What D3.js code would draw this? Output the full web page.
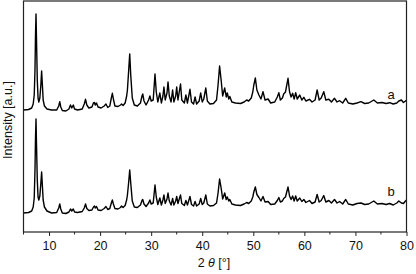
<!DOCTYPE html>
<html>
<head>
<meta charset="utf-8">
<script src="https://cdnjs.cloudflare.com/ajax/libs/d3/7.8.5/d3.min.js"></script>
<style>
  body { margin: 0; background: #fff; }
  svg text { font-family: "Liberation Sans", Arial, sans-serif; fill: #111; }
</style>
</head>
<body>
<svg id="xrd" width="416" height="274"></svg>
<script>

// 2 theta positions (deg), shared by both patterns
var twoTheta = [5.0,6.0,6.6,6.9,7.1,7.25,7.35,7.45,7.55,7.7,7.85,8.0,8.2,8.4,8.55,8.7,8.85,9.1,9.6,10.5,
  11.5,11.9,12.1,12.3,12.6,13.3,13.9,14.2,14.45,14.75,15.0,15.6,16.5,16.9,17.15,17.4,17.8,18.4,18.7,18.9,
  19.05,19.3,19.6,20.2,20.8,21.15,21.5,21.9,22.2,22.4,22.6,22.9,23.5,24.0,24.2,24.5,24.9,25.2,25.35,25.6,
  25.8,26.0,26.3,26.7,27.3,27.9,28.2,28.35,28.6,29.0,29.5,29.75,30.0,30.4,30.75,31.0,31.3,31.7,32.0,32.3,
  32.5,32.75,33.1,33.3,33.55,33.9,34.2,34.45,34.8,35.0,35.25,35.5,35.75,36.0,36.5,36.8,37.1,37.6,37.9,38.3,
  38.6,38.9,39.4,39.7,40.0,40.3,40.7,41.0,41.5,42.2,42.8,43.1,43.4,43.7,44.0,44.4,44.7,44.9,45.2,45.4,
  45.8,46.5,47.5,48.2,48.7,49.1,49.6,49.9,50.1,50.4,50.7,51.1,51.5,51.9,52.3,52.9,53.4,54.2,54.7,55.0,
  55.3,55.7,55.95,56.3,56.8,57.1,57.4,57.7,58.0,58.3,58.6,59.1,59.5,59.9,60.3,61.0,61.5,62.1,62.5,62.9,
  63.3,63.8,64.2,64.8,65.3,65.9,66.4,66.9,67.5,68.1,68.6,69.5,70.3,71.1,71.8,72.6,73.6,74.3,75.2,76.0,
  76.7,77.4,78.1,78.5,79.0,79.4,79.8,80.0];

// pattern a (drawn with its stacking offset included)
var intensityA = [1220,1225,1240,1280,1370,1620,1970,2180,1920,1520,1340,1300,1340,1470,1610,1470,1320,1260,1230,1220,
  1220,1260,1303,1250,1215,1210,1230,1270,1240,1270,1230,1220,1230,1280,1327,1270,1240,1250,1290,1295,
  1270,1290,1250,1240,1260,1280,1245,1260,1340,1387,1330,1260,1255,1270,1280,1265,1290,1360,1420,1620,
  1780,1570,1340,1270,1260,1290,1360,1380,1310,1270,1320,1360,1310,1320,1580,1400,1300,1390,1290,1360,
  1450,1320,1390,1500,1360,1300,1420,1300,1360,1450,1320,1400,1480,1320,1290,1370,1290,1427,1300,1280,
  1350,1280,1310,1390,1300,1330,1440,1310,1280,1285,1320,1470,1660,1520,1360,1440,1350,1390,1330,1355,
  1300,1290,1285,1300,1320,1310,1340,1400,1470,1540,1420,1370,1330,1403,1320,1330,1290,1300,1350,1393,
  1320,1340,1380,1400,1537,1400,1350,1387,1330,1393,1330,1370,1320,1347,1310,1327,1300,1320,1420,1320,
  1340,1403,1320,1327,1300,1337,1300,1313,1290,1337,1290,1280,1290,1303,1285,1290,1320,1290,1295,1285,
  1293,1280,1290,1310,1320,1295,1310,1315];

// pattern b
var intensityB = [190,195,210,250,340,620,940,1130,870,520,350,320,360,490,600,460,320,250,210,190,
  195,240,280,230,190,185,200,230,210,230,200,195,205,240,280,235,215,220,250,260,
  240,255,220,215,235,255,225,235,290,320,280,235,230,245,260,245,265,320,370,500,
  620,490,310,250,245,270,315,325,280,255,290,320,280,290,470,350,275,340,270,320,
  370,285,330,390,310,270,335,270,310,355,285,330,370,285,265,315,270,355,275,260,
  305,260,280,335,275,290,370,280,260,265,290,390,530,440,330,390,325,350,310,325,
  280,270,265,280,295,285,310,350,400,450,375,345,310,355,300,305,275,280,315,345,
  300,310,335,350,450,360,325,360,310,360,310,340,305,325,295,315,285,300,375,300,
  315,365,300,315,290,325,290,305,280,325,280,270,285,290,275,280,310,280,285,275,
  285,270,290,310,290,285,310,320];

var seriesNames = ["a", "b"];
var labelAt = [1380, 410];   // intensity where each curve's letter sits

var xTicks = [10, 20, 30, 40, 50, 60, 70, 80];
var xMinor = [5, 15, 25, 35, 45, 55, 65, 75];

var margin = {top: 1, right: 9.5, bottom: 42, left: 23.5},
    width = 416 - margin.left - margin.right,
    height = 274 - margin.top - margin.bottom;

var svg = d3.select("#xrd");
var g = svg.append("g")
    .attr("transform", "translate(" + margin.left + "," + margin.top + ")");

var x = d3.scaleLinear().domain([5, 80]).range([0, width]);
var y = d3.scaleLinear().domain([0, 2310]).range([height, 0]);

var series = [intensityA, intensityB].map(function(vals, i) {
  return {name: seriesNames[i], points: twoTheta.map(function(t, j) { return [t, vals[j]]; })};
});

var line = d3.line()
    .x(function(d) { return x(d[0]); })
    .y(function(d) { return y(d[1]); });

g.selectAll("path.pattern")
    .data(series)
  .enter().append("path")
    .attr("class", "pattern")
    .attr("d", function(d) { return line(d.points); })
    .style("fill", "none")
    .style("stroke", "#000")
    .style("stroke-width", 1.4)
    .style("stroke-linejoin", "round");

g.selectAll("text.tag")
    .data(series)
  .enter().append("text")
    .attr("class", "tag")
    .attr("x", x(77.0))
    .attr("y", function(d, i) { return y(labelAt[i]); })
    .attr("dy", "0.35em")
    .attr("text-anchor", "middle")
    .style("font-size", "13px")
    .text(function(d) { return d.name; });

// bottom axis: labelled majors plus minor ticks
var xAxis = g.append("g")
    .attr("transform", "translate(0," + height + ")")
    .call(d3.axisBottom(x).tickValues(xTicks).tickSize(4).tickPadding(5).tickFormat(d3.format("d")));
xAxis.select(".domain").remove();
xAxis.selectAll("line").style("stroke", "#222");
xAxis.selectAll("text")
    .style("font-size", "12.5px")
    .style("font-family", "Liberation Sans, Arial, sans-serif")
    .style("fill", "#111");

g.append("g")
    .attr("transform", "translate(0," + height + ")")
  .selectAll("line")
    .data(xMinor)
  .enter().append("line")
    .attr("x1", function(d) { return x(d); })
    .attr("x2", function(d) { return x(d); })
    .attr("y1", 0)
    .attr("y2", 2.5)
    .style("stroke", "#222");

// frame
g.append("rect")
    .attr("x", 0)
    .attr("y", 0)
    .attr("width", width)
    .attr("height", height)
    .style("fill", "none")
    .style("stroke", "#222")
    .style("stroke-width", 1.2);

var xTitle = svg.append("text")
    .attr("x", margin.left + x(42.3))
    .attr("y", 267)
    .attr("text-anchor", "middle")
    .style("font-size", "12.5px");
xTitle.append("tspan").text("2 ");
xTitle.append("tspan").style("font-style", "italic").text("\u03b8");
xTitle.append("tspan").text(" [\u00b0]");

svg.append("text")
    .attr("transform", "translate(12," + (margin.top + 119) + ") rotate(-90)")
    .attr("text-anchor", "middle")
    .style("font-size", "12.5px")
    .text("Intensity [a.u.]");

</script>
</body>
</html>
